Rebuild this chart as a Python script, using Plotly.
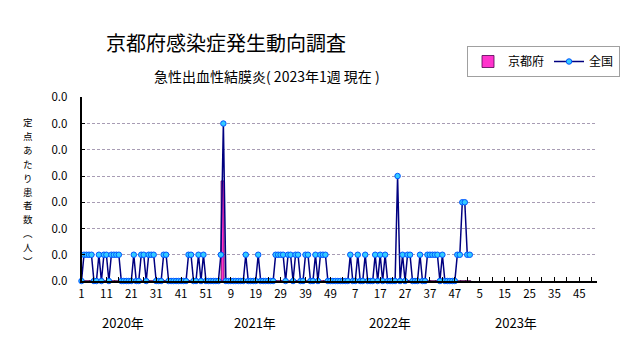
import plotly.graph_objects as go

# Weekly surveillance of acute hemorrhagic conjunctivitis, per sentinel site
year_labels = ["2020年", "2021年", "2022年", "2023年"]
weeks_per_year = 52

national_2020 = [0.000, 0.005, 0.005, 0.005, 0.005, 0.000, 0.000, 0.005, 0.000, 0.005,
                 0.005, 0.000, 0.005, 0.005, 0.005, 0.005, 0.000, 0.000, 0.000, 0.000,
                 0.000, 0.005, 0.000, 0.000, 0.005, 0.005, 0.000, 0.005, 0.005, 0.005,
                 0.000, 0.000, 0.000, 0.005, 0.005, 0.000, 0.000, 0.000, 0.000, 0.000,
                 0.000, 0.000, 0.000, 0.005, 0.005, 0.000, 0.000, 0.005, 0.000, 0.005,
                 0.000, 0.000]
national_2021 = [0.000, 0.000, 0.000, 0.000, 0.005, 0.030, 0.000, 0.000, 0.000, 0.000,
                 0.000, 0.000, 0.000, 0.000, 0.005, 0.000, 0.000, 0.000, 0.000, 0.005,
                 0.000, 0.000, 0.000, 0.000, 0.000, 0.000, 0.005, 0.005, 0.005, 0.005,
                 0.000, 0.005, 0.005, 0.000, 0.005, 0.005, 0.000, 0.000, 0.005, 0.005,
                 0.000, 0.000, 0.005, 0.000, 0.005, 0.005, 0.005, 0.000, 0.000, 0.000,
                 0.000, 0.000]
national_2022 = [0.000, 0.000, 0.000, 0.000, 0.005, 0.000, 0.000, 0.005, 0.000, 0.000,
                 0.005, 0.000, 0.000, 0.000, 0.005, 0.000, 0.005, 0.000, 0.005, 0.000,
                 0.000, 0.000, 0.000, 0.020, 0.000, 0.005, 0.000, 0.005, 0.005, 0.000,
                 0.000, 0.000, 0.005, 0.000, 0.000, 0.005, 0.005, 0.005, 0.005, 0.005,
                 0.000, 0.005, 0.000, 0.000, 0.000, 0.000, 0.000, 0.005, 0.005, 0.015,
                 0.015, 0.005]
national_2023 = [0.005]

kyoto_2020 = [0.000] * 52
kyoto_2021 = [0.000, 0.000, 0.000, 0.000, 0.000, 0.019] + [0.000] * 46
kyoto_2022 = [0.000] * 52
kyoto_2023 = [0.000]

national = national_2020 + national_2021 + national_2022 + national_2023
kyoto = kyoto_2020 + kyoto_2021 + kyoto_2022 + kyoto_2023
week_index = list(range(len(national)))

week_tick_labels = ["1", "11", "21", "31", "41", "51", "9", "19", "29", "39", "49",
                    "7", "17", "27", "37", "47", "5", "15", "25", "35", "45"]
y_tick_values = [0.0, 0.005, 0.010, 0.015, 0.020, 0.025, 0.030, 0.035]

W, H = 631, 347
FONT = "Noto Sans CJK JP"

fig = go.Figure()
fig.add_trace(go.Bar(
    x=week_index, y=kyoto, name="京都府", width=1.2,
    marker=dict(color="#ff33cc", line=dict(color="#500050", width=0.8)),
))
fig.add_trace(go.Scatter(
    x=week_index, y=national, name="全国", mode="lines+markers",
    line=dict(color="#000080", width=1.5),
    marker=dict(size=5.5, color="#33ccff", line=dict(color="#0055ff", width=1)),
    cliponaxis=False,
))

x0, x1 = 81.5, 596.7
y_bottom, y_top = 281.0, 97.3
n_cats = weeks_per_year * len(year_labels)

fig.update_layout(
    width=W, height=H, autosize=False,
    margin=dict(l=0, r=0, t=0, b=0, autoexpand=False),
    paper_bgcolor="white", plot_bgcolor="white",
    font=dict(family=FONT, size=12, color="black"),
    bargap=0,
    showlegend=True,
    legend=dict(
        orientation="h", x=467 / W, y=1 - 46 / H, xanchor="left", yanchor="top",
        bordercolor="#a0a0a0", borderwidth=1, bgcolor="white",
        font=dict(family=FONT, size=12), itemwidth=30,
    ),
    xaxis=dict(
        domain=[x0 / W, x1 / W], range=[0, n_cats - 1], automargin=False,
        tickmode="array", tickvals=[10 * k for k in range(len(week_tick_labels))],
        ticktext=week_tick_labels,
        ticks="inside", ticklen=4, tickwidth=1, tickcolor="black",
        minor=dict(tickmode="array", tickvals=[10 * k + 5 for k in range(len(week_tick_labels))],
                   ticks="inside", ticklen=4, tickwidth=1, tickcolor="black", showgrid=False),
        showline=True, linecolor="black", linewidth=2,
        showgrid=False, zeroline=False,
        tickfont=dict(family=FONT, size=11.5),
        ticklabelstandoff=1,
    ),
    yaxis=dict(
        domain=[1 - y_bottom / H, 1 - y_top / H], range=[0, 0.035], automargin=False,
        tickmode="array", tickvals=y_tick_values, tickformat=".1f",
        ticks="inside", ticklen=4, tickwidth=1, tickcolor="black",
        showline=True, linecolor="black", linewidth=1.5,
        showgrid=True, gridcolor="#a89cb4", griddash="3px,2px", gridwidth=1,
        zeroline=False,
        tickfont=dict(family=FONT, size=11.5),
        ticklabelstandoff=10,
    ),
)

# Chart title and subtitle
fig.add_annotation(text="京都府感染症発生動向調査", x=226 / W, y=1 - 42 / H,
                   xref="paper", yref="paper", showarrow=False,
                   font=dict(family=FONT, size=20), xanchor="center", yanchor="middle")
fig.add_annotation(text="急性出血性結膜炎( 2023年1週 現在 )", x=267 / W, y=1 - 76 / H,
                   xref="paper", yref="paper", showarrow=False,
                   font=dict(family=FONT, size=14), xanchor="center", yanchor="middle")

# Vertical y-axis title, one upright character per row
y_title = "定点あたり患者数︵人︶"
row_step = 13.9
for k, ch in enumerate(y_title):
    fig.add_annotation(text=ch, x=27.5 / W, y=1 - (122 + row_step * k) / H,
                       xref="paper", yref="paper", showarrow=False,
                       font=dict(family=FONT, size=9.5), xanchor="center", yanchor="middle")

# Year captions under the week axis
year_centers = [123.3, 255.0, 389.5, 516.0]
for label, cx in zip(year_labels, year_centers):
    fig.add_annotation(text=label, x=cx / W, y=1 - 322 / H,
                       xref="paper", yref="paper", showarrow=False,
                       font=dict(family=FONT, size=13), xanchor="center", yanchor="middle")

fig.write_html("out.html")
